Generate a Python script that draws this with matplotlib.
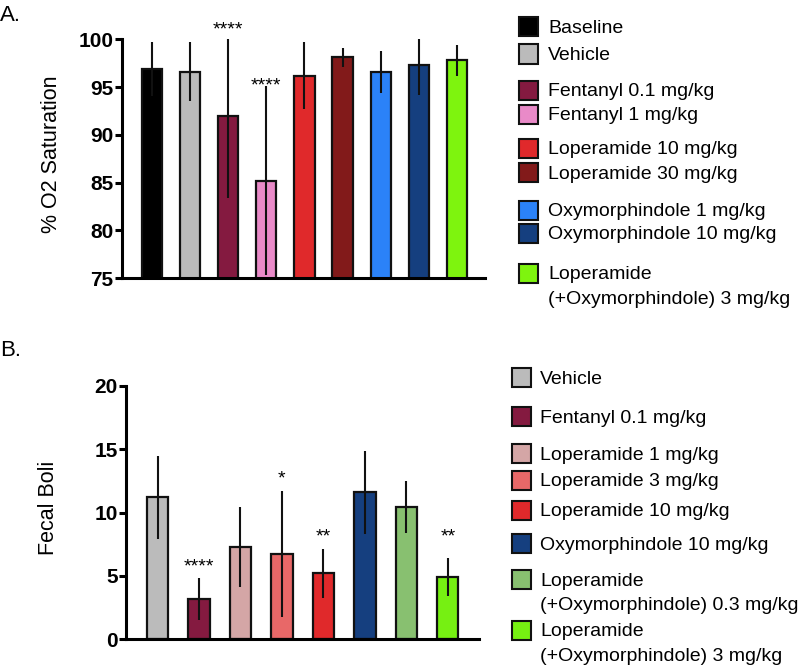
import numpy as np
import matplotlib
matplotlib.use("Agg")
import matplotlib.pyplot as plt
from matplotlib.patches import Rectangle

# ── DATA ──────────────────────────────────────────────────────────
LABELS_A = ["Baseline", "Vehicle", "Fentanyl 0.1 mg/kg", "Fentanyl 1 mg/kg",
            "Loperamide 10 mg/kg", "Loperamide 30 mg/kg",
            "Oxymorphindole 1 mg/kg", "Oxymorphindole 10 mg/kg",
            "Loperamide\n(+Oxymorphindole) 3 mg/kg"]
MEAN_A = [96.9, 96.6, 92.0, 85.2, 96.2, 98.1, 96.6, 97.3, 97.8]
SD_A = [2.8, 3.1, 8.6, 9.9, 3.5, 1.0, 2.2, 3.1, 1.6]
COLORS_A = ["#000000", "#bbbbbb", "#841a40", "#e98ac8", "#e0292b",
            "#821a1a", "#2b82f8", "#153f7f", "#7ef40e"]
STARS_A = ["", "", "****", "****", "", "", "", "", ""]
STAR_Y_A = [np.nan, np.nan, 101.7, 95.85, np.nan, np.nan, np.nan, np.nan, np.nan]

LABELS_B = ["Vehicle", "Fentanyl 0.1 mg/kg", "Loperamide 1 mg/kg",
            "Loperamide 3 mg/kg", "Loperamide 10 mg/kg",
            "Oxymorphindole 10 mg/kg",
            "Loperamide\n(+Oxymorphindole) 0.3 mg/kg",
            "Loperamide\n(+Oxymorphindole) 3 mg/kg"]
MEAN_B = [11.2, 3.2, 7.3, 6.75, 5.2, 11.6, 10.45, 4.9]
SD_B = [3.25, 1.65, 3.15, 4.95, 1.95, 3.3, 2.05, 1.5]
COLORS_B = ["#bbbbbb", "#841a40", "#d4a6a6", "#e86868", "#e0292b",
            "#153f7f", "#88c070", "#76f012"]
STARS_B = ["", "****", "", "*", "**", "", "", "**"]
STAR_Y_B = [np.nan, 6.2, np.nan, 13.2, 8.6, np.nan, np.nan, 8.6]

# ── LAYOUT (figure pixels, from top) ──────────────────────────────
W, H = 800, 665
LEG_ROWS_A = [26.7, 54, 90, 114, 148, 172, 210, 233, 273]
LEG_ROWS_B = [377.7, 416.7, 453, 480, 510, 543, 579, 630]
LINE_STEP = 24.5

plt.rcParams.update({
    "font.family": ["Liberation Sans", "DejaVu Sans"],
})

fig = plt.figure(figsize=(W / 100, H / 100), dpi=100)


def px_box(left, top, right, bottom):
    return [left / W, 1 - bottom / H, (right - left) / W, (bottom - top) / H]


def style_axis(ax, ylim, yticks):
    ax.set_ylim(*ylim)
    ax.set_yticks(yticks)
    ax.set_xticks([])
    for s in ("top", "right"):
        ax.spines[s].set_visible(False)
    for s in ("left", "bottom"):
        ax.spines[s].set_linewidth(2.2)
    ax.tick_params(axis="y", direction="out", length=5, width=2.2,
                   labelsize=15, pad=1)
    for t in ax.get_yticklabels():
        t.set_fontweight("bold")


def draw_bars(ax, means, sds, colors, stars, star_y, width):
    x = np.arange(len(means))
    ax.bar(x, means, width=width, color=colors, edgecolor="#111111",
           linewidth=1.6, zorder=2)
    ax.errorbar(x, means, yerr=sds, fmt="none", ecolor="#111111",
                elinewidth=1.5, capsize=0, zorder=3)
    for xi, s, y in zip(x, stars, star_y):
        if s:
            ax.annotate(s, xy=(xi, y), xytext=(0, -8),
                        textcoords="offset points", ha="center",
                        va="baseline", fontsize=14, annotation_clip=False)


def draw_legend(labels, colors, rows, sq_left, sq_size, text_x):
    for lab, col, row in zip(labels, colors, rows):
        fig.add_artist(Rectangle(
            (sq_left / W, 1 - (row + sq_size / 2) / H),
            sq_size / W, sq_size / H, transform=fig.transFigure,
            facecolor=col, edgecolor="#111111", linewidth=1.5))
        for k, line in enumerate(lab.split("\n")):
            fig.text(text_x / W, 1 - (row + k * LINE_STEP) / H, line,
                     ha="left", va="center_baseline", fontsize=14)


# ── PANEL A ───────────────────────────────────────────────────────
axA = fig.add_axes(px_box(122, 39.3, 485, 278))
draw_bars(axA, MEAN_A, SD_A, COLORS_A, STARS_A, STAR_Y_A, 0.53)
axA.set_xlim(-0.79, 8.74)
style_axis(axA, (75, 100), [75, 80, 85, 90, 95, 100])
axA.set_ylabel("% O2 Saturation", fontsize=15.5)
axA.yaxis.set_label_coords(-0.165, 0.52)
draw_legend(LABELS_A, COLORS_A, LEG_ROWS_A, 519, 19, 548)
fig.text(0, 1 - 20.7 / H, "A.", fontsize=16, va="baseline")

# ── PANEL B ───────────────────────────────────────────────────────
axB = fig.add_axes(px_box(126, 386, 479, 639.3))
draw_bars(axB, MEAN_B, SD_B, COLORS_B, STARS_B, STAR_Y_B, 0.51)
axB.set_xlim(-0.76, 7.75)
style_axis(axB, (0, 20), [0, 5, 10, 15, 20])
axB.set_ylabel("Fecal Boli", fontsize=15.5)
axB.yaxis.set_label_coords(-0.19, 0.52)
draw_legend(LABELS_B, COLORS_B, LEG_ROWS_B, 512, 19, 540)
fig.text(0, 1 - 356 / H, "B.", fontsize=16, va="baseline")

fig.savefig("out.png", dpi=100)
